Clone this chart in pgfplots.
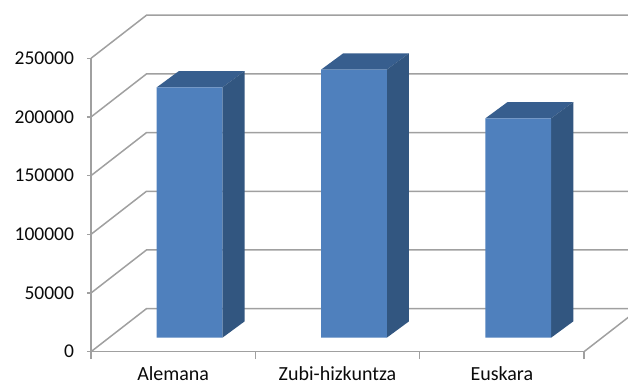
\documentclass[border=0pt]{standalone}
\usepackage{fontspec}
\setmainfont{Carlito}
\usepackage{pgfplots}
\pgfplotsset{compat=1.18}
\definecolor{facefront}{HTML}{4F80BD}
\definecolor{faceside}{HTML}{325680}
\definecolor{facetop}{HTML}{375E8E}
\definecolor{wallgrid}{HTML}{A0A0A0}
\definecolor{labeltext}{HTML}{0A0A0A}
\pgfplotsset{
  wall/.style={wallgrid,line width=1.5pt,no marks},
  barpos/.style={xshift=16.4pt,yshift=14pt},
  sideface/.style={barpos,fill=faceside,draw=none,no marks},
  topface/.style={barpos,fill=facetop,draw=none,no marks},
}
\begin{document}
\begin{tikzpicture}
\clip (0,0) rectangle (628pt,385pt);
\begin{axis}[
  at={(91pt,33.3pt)},anchor=south west,
  scale only axis,width=493pt,height=293.4pt,
  xmin=0,xmax=3,ymin=0,ymax=250000,
  clip=false,
  axis lines=left,
  axis line style={-,wallgrid,line width=1.5pt},
  tick style={wallgrid,line width=1.1pt},
  tick align=outside,
  major tick length=4pt,
  minor tick length=7.5pt,
  major x tick style={draw=none},
  xtick={0.5,1.5,2.5},
  xticklabels={Alemana,Zubi-hizkuntza,Euskara},
  minor xtick={0,1,2,3},
  ytick={0,50000,100000,150000,200000,250000},
  scaled y ticks=false,
  /pgf/number format/.cd,fixed,precision=0,1000 sep={},assume math mode=true,
  /pgfplots/.cd,
  xticklabel style={font=\fontsize{20}{22}\selectfont,text=labeltext,yshift=-7.5pt},
  yticklabel style={font=\fontsize{19.5}{21}\selectfont,text=labeltext,xshift=-9.5pt},
]
% side wall diagonals and back wall lines, one per tick level
\addplot[wall] coordinates {(0,0)(0.3377,36700)(3.3377,36700)};
\addplot[wall] coordinates {(0,50000)(0.3377,86700)(3.3377,86700)};
\addplot[wall] coordinates {(0,100000)(0.3377,136700)(3.3377,136700)};
\addplot[wall] coordinates {(0,150000)(0.3377,186700)(3.3377,186700)};
\addplot[wall] coordinates {(0,200000)(0.3377,236700)(3.3377,236700)};
\addplot[wall] coordinates {(0,250000)(0.3377,286700)(3.3377,286700)};
% floor edge on the right
\addplot[wall] coordinates {(3,0)(3.3377,36700)};
% top and side faces of the columns
\addplot[topface] coordinates {(0.3,213300)(0.435,227200)(0.835,227200)(0.7,213300)} --cycle;
\addplot[sideface] coordinates {(0.7,0)(0.835,13900)(0.835,227200)(0.7,213300)} --cycle;
\addplot[topface] coordinates {(1.3,228400)(1.435,242300)(1.835,242300)(1.7,228400)} --cycle;
\addplot[sideface] coordinates {(1.7,0)(1.835,13900)(1.835,242300)(1.7,228400)} --cycle;
\addplot[topface] coordinates {(2.3,186900)(2.435,200800)(2.835,200800)(2.7,186900)} --cycle;
\addplot[sideface] coordinates {(2.7,0)(2.835,13900)(2.835,200800)(2.7,186900)} --cycle;
% front faces of the columns
\addplot[ybar,bar width=65.7pt,barpos,fill=facefront,draw=none,no marks]
  coordinates {(0.5,213300)(1.5,228400)(2.5,186900)};
\end{axis}
\end{tikzpicture}
\end{document}
